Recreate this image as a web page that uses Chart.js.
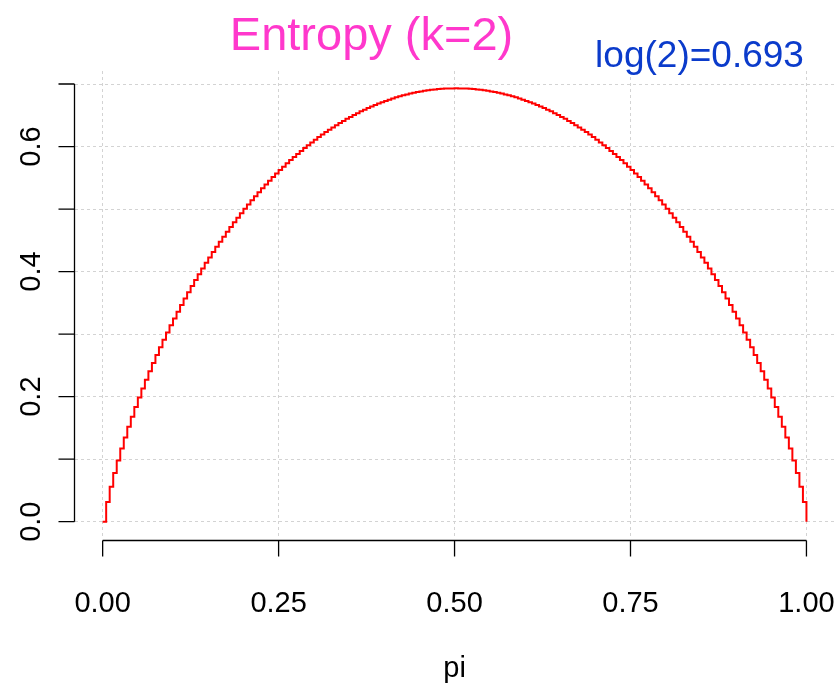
<!DOCTYPE html>
<html>
<head>
<meta charset="utf-8">
<title>Entropy (k=2)</title>
<script src="https://cdn.jsdelivr.net/npm/chart.js@4/dist/chart.umd.min.js"></script>
<style>
  html, body { margin: 0; padding: 0; background: #fff; }
  canvas { display: block; }
</style>
</head>
<body>
<canvas id="entropy-plot" width="839" height="687"></canvas>
<script>
// Binary entropy H(pi) on a 0.005 grid of pi, drawn as an R-style step plot.

const piStep = 0.005;

const entropy = [
  0, 0.0315, 0.0560, 0.0779, 0.0980, 0.1169, 0.1347, 0.1517, 0.1679, 0.1835,
  0.1985, 0.2130, 0.2270, 0.2405, 0.2536, 0.2664, 0.2788, 0.2908, 0.3025, 0.3140,
  0.3251, 0.3359, 0.3465, 0.3568, 0.3669, 0.3768, 0.3864, 0.3958, 0.4050, 0.4140,
  0.4227, 0.4313, 0.4397, 0.4479, 0.4559, 0.4637, 0.4714, 0.4789, 0.4862, 0.4934,
  0.5004, 0.5073, 0.5140, 0.5205, 0.5269, 0.5332, 0.5393, 0.5453, 0.5511, 0.5568,
  0.5623, 0.5678, 0.5731, 0.5783, 0.5833, 0.5882, 0.5930, 0.5977, 0.6022, 0.6066,
  0.6109, 0.6151, 0.6191, 0.6231, 0.6269, 0.6306, 0.6342, 0.6377, 0.6410, 0.6443,
  0.6474, 0.6505, 0.6534, 0.6563, 0.6590, 0.6616, 0.6641, 0.6665, 0.6687, 0.6709,
  0.6730, 0.6750, 0.6769, 0.6787, 0.6803, 0.6819, 0.6833, 0.6847, 0.6859, 0.6871,
  0.6881, 0.6891, 0.6899, 0.6907, 0.6913, 0.6919, 0.6923, 0.6927, 0.6929, 0.6930,
  0.6931,
  0.6930, 0.6929, 0.6927, 0.6923, 0.6919, 0.6913, 0.6907, 0.6899, 0.6891, 0.6881,
  0.6871, 0.6859, 0.6847, 0.6833, 0.6819, 0.6803, 0.6787, 0.6769, 0.6750, 0.6730,
  0.6709, 0.6687, 0.6665, 0.6641, 0.6616, 0.6590, 0.6563, 0.6534, 0.6505, 0.6474,
  0.6443, 0.6410, 0.6377, 0.6342, 0.6306, 0.6269, 0.6231, 0.6191, 0.6151, 0.6109,
  0.6066, 0.6022, 0.5977, 0.5930, 0.5882, 0.5833, 0.5783, 0.5731, 0.5678, 0.5623,
  0.5568, 0.5511, 0.5453, 0.5393, 0.5332, 0.5269, 0.5205, 0.5140, 0.5073, 0.5004,
  0.4934, 0.4862, 0.4789, 0.4714, 0.4637, 0.4559, 0.4479, 0.4397, 0.4313, 0.4227,
  0.4140, 0.4050, 0.3958, 0.3864, 0.3768, 0.3669, 0.3568, 0.3465, 0.3359, 0.3251,
  0.3140, 0.3025, 0.2908, 0.2788, 0.2664, 0.2536, 0.2405, 0.2270, 0.2130, 0.1985,
  0.1835, 0.1679, 0.1517, 0.1347, 0.1169, 0.0980, 0.0779, 0.0560, 0.0315, 0
];

const xTicks = [0, 0.25, 0.5, 0.75, 1];
const xTickLabels = ['0.00', '0.25', '0.50', '0.75', '1.00'];
const yTicks = [0, 0.1, 0.2, 0.3, 0.4, 0.5, 0.6, 0.7];
const yTickLabels = ['0.0', '', '0.2', '', '0.4', '', '0.6', ''];

const titleText = 'Entropy (k=2)';
const noteText = 'log(2)=0.693';
const xTitle = 'pi';

const FONT = '"Liberation Sans", Arial, Helvetica, sans-serif';

// Function to draw R-like axes, tick labels and the texts around the plot
const rAxesPlugin = {
  id: 'rAxes',
  afterDraw(chart) {
    const ctx = chart.ctx;
    const xs = chart.scales.x;
    const ys = chart.scales.y;
    const area = chart.chartArea;
    const tickLen = 16;

    ctx.save();
    ctx.strokeStyle = '#000';
    ctx.lineWidth = 1.3;

    // bottom axis
    const axisY = area.bottom + 1.5;
    ctx.beginPath();
    ctx.moveTo(xs.getPixelForValue(xTicks[0]), axisY);
    ctx.lineTo(xs.getPixelForValue(xTicks[xTicks.length - 1]), axisY);
    xTicks.forEach(v => {
      const px = xs.getPixelForValue(v);
      ctx.moveTo(px, axisY);
      ctx.lineTo(px, axisY + tickLen);
    });
    ctx.stroke();

    // left axis
    const axisX = area.left;
    ctx.beginPath();
    ctx.moveTo(axisX, ys.getPixelForValue(yTicks[0]));
    ctx.lineTo(axisX, ys.getPixelForValue(yTicks[yTicks.length - 1]));
    yTicks.forEach(v => {
      const py = ys.getPixelForValue(v);
      ctx.moveTo(axisX, py);
      ctx.lineTo(axisX - tickLen, py);
    });
    ctx.stroke();

    ctx.fillStyle = '#000';
    ctx.font = '29px ' + FONT;
    ctx.textAlign = 'center';
    ctx.textBaseline = 'alphabetic';
    xTicks.forEach((v, i) => {
      ctx.fillText(xTickLabels[i], xs.getPixelForValue(v), 611.5);
    });
    ctx.fillText(xTitle, (area.left + area.right) / 2, 677);

    yTicks.forEach((v, i) => {
      if (!yTickLabels[i]) return;
      ctx.save();
      ctx.translate(40, ys.getPixelForValue(v));
      ctx.rotate(-Math.PI / 2);
      ctx.fillText(yTickLabels[i], 0, 0);
      ctx.restore();
    });

    ctx.fillStyle = '#FF38CC';
    ctx.font = '47px ' + FONT;
    ctx.fillText(titleText, 371.5, 50);

    ctx.fillStyle = '#0B3BCB';
    ctx.font = '37px ' + FONT;
    ctx.fillText(noteText, 699.5, 66.5);

    ctx.restore();
  }
};

const gridStyle = {
  grid: { color: '#D3D3D3', lineWidth: 1, drawTicks: false },
  border: { display: false, dash: [3, 3] },
  ticks: { display: false }
};

const ctx = document.getElementById('entropy-plot').getContext('2d');

const entropyPlot = new Chart(ctx, {
  type: 'line',
  data: {
    datasets: [{
      data: entropy.map((h, i) => ({ x: i * piStep, y: h })),
      borderColor: '#FF0000',
      borderWidth: 2,
      pointRadius: 0,
      fill: false,
      stepped: 'before'
    }]
  },
  options: {
    responsive: false,
    animation: false,
    layout: { padding: { left: 74.5, right: 4.4, top: 71, bottom: 148 } },
    plugins: {
      legend: { display: false },
      tooltip: { enabled: false }
    },
    scales: {
      x: Object.assign({
        type: 'linear',
        min: -0.04,
        max: 1.04,
        afterBuildTicks: scale => { scale.ticks = xTicks.map(v => ({ value: v })); }
      }, gridStyle),
      y: Object.assign({
        type: 'linear',
        min: -0.0277,
        max: 0.7208,
        afterBuildTicks: scale => { scale.ticks = yTicks.map(v => ({ value: v })); }
      }, gridStyle)
    }
  },
  plugins: [rAxesPlugin]
});
</script>
</body>
</html>
